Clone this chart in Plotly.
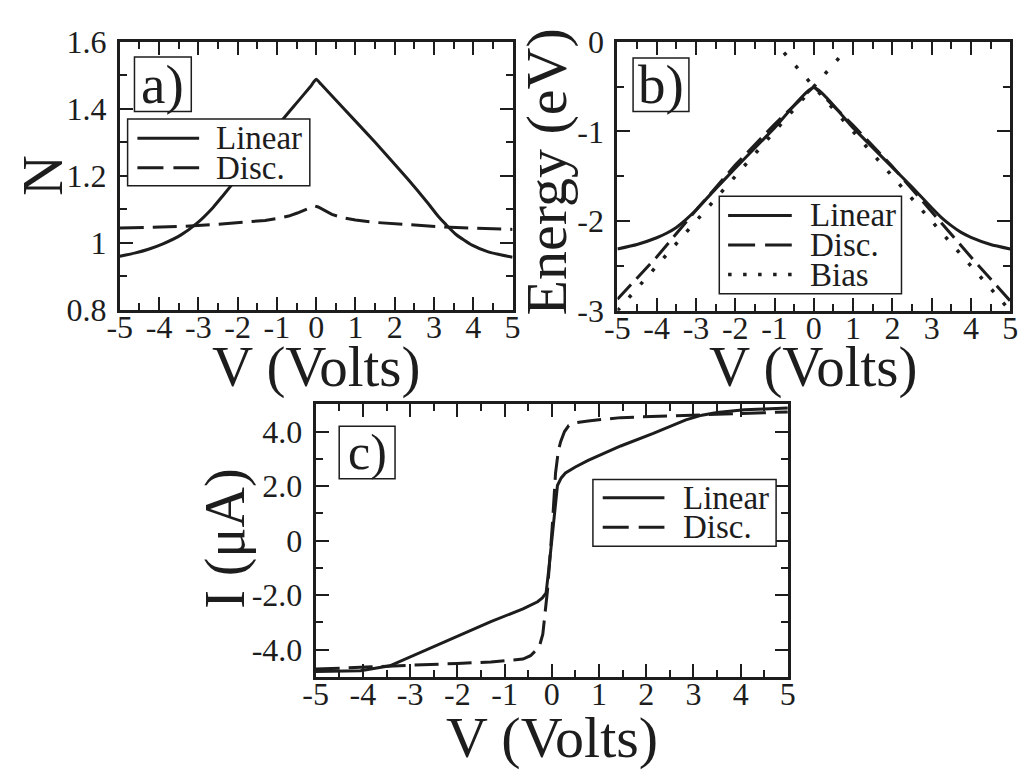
import plotly.graph_objects as go

W, H = 1029, 778
INK = "#1d1d1d"
SERIF = "Liberation Serif"

# ---------------- data ----------------
# a) occupation N versus bias
v_a_lin = [-5, -4.6, -4.27, -3.9, -3.45, -3.04, -2.63, -2.38, -2.0, -1.5, -0.98, -0.48,
           -0.15, 0.0, 0.12, 0.67, 1.5, 2.32, 2.82, 3.1, 3.3, 3.56, 3.97, 4.38, 5]
n_a_lin = [0.960, 0.970, 0.981, 0.997, 1.023, 1.058, 1.105, 1.140, 1.195, 1.270, 1.350, 1.420,
           1.466, 1.488, 1.474, 1.405, 1.300, 1.192, 1.122, 1.080, 1.055, 1.025, 0.993, 0.973, 0.957]
v_a_disc = [-5, -4, -3.45, -2.5, -1.8, -1.3, -0.98, -0.7, -0.48, -0.3, -0.15, -0.03,
            0.05, 0.18, 0.4, 0.67, 1.0, 1.5, 2.32, 3.15, 3.97, 5]
n_a_disc = [1.044, 1.047, 1.049, 1.055, 1.061, 1.067, 1.073, 1.080, 1.089, 1.097, 1.105, 1.110,
            1.107, 1.098, 1.085, 1.075, 1.068, 1.061, 1.054, 1.048, 1.044, 1.040]

# b) level energy versus bias
v_b_lin = [-5, -4.5, -4, -3.75, -3.5, -3.25, -3, -2.5, -2, -1, 0,
           1, 2, 2.5, 3, 3.25, 3.5, 3.75, 4, 4.5, 5]
e_b_lin = [-2.31, -2.26, -2.185, -2.135, -2.07, -1.98, -1.875, -1.64, -1.41, -0.96, -0.51,
           -0.96, -1.40, -1.62, -1.85, -1.96, -2.05, -2.125, -2.18, -2.26, -2.31]
v_b_disc = [-5, -4, -3, -2, -1, 0, 1, 2, 3, 4, 5]
e_b_disc = [-2.87, -2.40, -1.88, -1.375, -0.92, -0.50, -0.93, -1.39, -1.895, -2.40, -2.89]
v_b_bias = [-5, 0.76, None, -0.76, 5]
e_b_bias = [-3.0, -0.12, None, -0.12, -3.0]

# c) current versus bias
v_c_lin = [-5, -4.5, -4.05, -3.43, -2.67, -1.98, -1.29, -0.61, -0.3, -0.2, -0.12, -0.06, 0,
           0.06, 0.12, 0.2, 0.29, 0.5, 0.77, 1.46, 2.15, 2.84, 3.18, 3.5, 4.08, 4.5, 5]
i_c_lin = [-4.80, -4.79, -4.77, -4.59, -4.01, -3.49, -2.97, -2.50, -2.24, -2.10, -1.92, -1.0, 0.0,
           1.0, 2.02, 2.30, 2.48, 2.70, 2.94, 3.47, 3.93, 4.43, 4.60, 4.70, 4.80, 4.83, 4.86]
v_c_disc = [-5, -4, -3, -2, -1.29, -0.61, -0.45, -0.33, -0.25, -0.19, -0.09, 0.01, 0.08,
            0.14, 0.19, 0.27, 0.36, 0.5, 0.77, 1.46, 2.84, 4, 5]
i_c_disc = [-4.71, -4.65, -4.57, -4.50, -4.45, -4.34, -4.22, -4.01, -3.80, -3.43, -1.81, 0.51, 2.48,
            3.30, 3.64, 4.00, 4.22, 4.32, 4.39, 4.51, 4.59, 4.66, 4.72]

# ticks
v_ticks = [-5, -4, -3, -2, -1, 0, 1, 2, 3, 4, 5]
v_ticktext = ["-5", "-4", "-3", "-2", "-1", "0", "1", "2", "3", "4", "5"]
n_ticks = [0.8, 1.0, 1.2, 1.4, 1.6]
n_ticktext = ["0.8", "1", "1.2", "1.4", "1.6"]
e_ticks = [-3, -2, -1, 0]
e_ticktext = ["-3", "-2", "-1", "0"]
i_ticks = [-4, -2, 0, 2, 4]
i_ticktext = ["-4.0", "-2.0", "0", "2.0", "4.0"]

series_names = ["Linear", "Disc.", "Bias"]

# ---------------- helpers ----------------
def px(x):
    return x / W


def py(y):
    return 1 - y / H


def axis(domain, rng, tickvals, ticktext, minor_step, anchor, is_y):
    minor_vals = []
    k = rng[0]
    while k <= rng[1] + 1e-9:
        minor_vals.append(round(k, 6))
        k += minor_step
    return dict(
        domain=domain, range=rng, anchor=anchor,
        tickmode="array", tickvals=tickvals, ticktext=ticktext,
        showline=True, linewidth=3, linecolor=INK, mirror="allticks",
        ticks="inside", ticklen=13, tickwidth=2, tickcolor=INK,
        showgrid=False, zeroline=False, fixedrange=True,
        tickfont=dict(family=SERIF, size=32, color=INK),
        ticklabelstandoff=4 if is_y else -13,
        minor=dict(tickmode="array", tickvals=minor_vals, ticks="inside",
                   ticklen=7, tickwidth=2, tickcolor=INK, showgrid=False),
    )


SOLID = dict(color=INK, width=3)
SOLID_SMOOTH = dict(color=INK, width=3, shape="spline", smoothing=0.5)
DASHED = dict(color=INK, width=3, dash="24px,9px")

fig = go.Figure()
fig.add_trace(go.Scatter(x=v_a_lin, y=n_a_lin, mode="lines", line=SOLID_SMOOTH,
                         name=series_names[0], xaxis="x", yaxis="y"))
fig.add_trace(go.Scatter(x=v_a_disc, y=n_a_disc, mode="lines", line=DASHED, name=series_names[1],
                         xaxis="x", yaxis="y"))
fig.add_trace(go.Scatter(x=v_b_lin, y=e_b_lin, mode="lines", line=SOLID_SMOOTH,
                         name=series_names[0], xaxis="x2", yaxis="y2"))
fig.add_trace(go.Scatter(x=v_b_disc, y=e_b_disc, mode="lines",
                         line=dict(color=INK, width=3, dash="20px,8px"), name=series_names[1],
                         xaxis="x2", yaxis="y2"))
fig.add_trace(go.Scatter(x=v_b_bias, y=e_b_bias, mode="lines",
                         line=dict(color=INK, width=3.5, dash="3.5px,14px"), name=series_names[2],
                         xaxis="x2", yaxis="y2"))
fig.add_trace(go.Scatter(x=v_c_lin, y=i_c_lin, mode="lines", line=SOLID, name=series_names[0],
                         xaxis="x3", yaxis="y3"))
fig.add_trace(go.Scatter(x=v_c_disc, y=i_c_disc, mode="lines", line=DASHED, name=series_names[1],
                         xaxis="x3", yaxis="y3"))

# subplot frames (pixel boxes)
A = (109, 510, 25, 306)
B = (617, 1018, 25, 307)
C = (309, 791, 405, 691)


def dom(box):
    x0, x1, y0, y1 = box
    return [px(x0), px(x1)], [py(y1), py(y0)]


ax_dx, ax_dy = dom(A)
bx_dx, bx_dy = dom(B)
cx_dx, cx_dy = dom(C)

fig.update_layout(
    width=W, height=H, margin=dict(l=0, r=0, t=0, b=0),
    paper_bgcolor="white", plot_bgcolor="white", showlegend=False,
    font=dict(family=SERIF, color=INK),
    xaxis=axis(ax_dx, [-5, 5], v_ticks, v_ticktext, 0.5, "y", False),
    yaxis=axis(ax_dy, [0.8, 1.6], n_ticks, n_ticktext, 0.1, "x", True),
    xaxis2=axis(bx_dx, [-5, 5], v_ticks, v_ticktext, 0.5, "y2", False),
    yaxis2=axis(bx_dy, [-3, 0], e_ticks, e_ticktext, 0.5, "x2", True),
    xaxis3=axis(cx_dx, [-5, 5], v_ticks, v_ticktext, 0.5, "y3", False),
    yaxis3=axis(cx_dy, [-5, 5], i_ticks, i_ticktext, 1.0, "x3", True),
)

shapes = []
annotations = []


def text(x, y, s, size, angle=0, xanchor="center"):
    annotations.append(dict(
        x=px(x), y=py(y), xref="paper", yref="paper", text=s, showarrow=False,
        xanchor=xanchor, yanchor="middle", textangle=angle, borderpad=0,
        font=dict(family=SERIF, size=size, color=INK)))


def box(x0, y0, x1, y1, w=1.5):
    shapes.append(dict(type="rect", xref="paper", yref="paper",
                       x0=px(x0), x1=px(x1), y0=py(y1), y1=py(y0),
                       line=dict(color=INK, width=w), fillcolor="white", layer="above"))


def sample(x0, x1, y, dash=None, width=3):
    line = dict(color=INK, width=width)
    if dash:
        line["dash"] = dash
    shapes.append(dict(type="line", xref="paper", yref="paper",
                       x0=px(x0), x1=px(x1), y0=py(y), y1=py(y), line=line, layer="above"))


# axis titles
text(309.5, 366, "V (Volts)", 57)
text(817.5, 366, "V (Volts)", 57)
text(550, 754, "V (Volts)", 58)
text(30.5, 165.5, "N", 56, angle=-90)
text(545, 161, "Energy (eV)", 58, angle=-90)
text(217, 546.5, "I (μA)", 56, angle=-90)

# panel tags
box(124, 41, 182, 98)
text(153, 70, "a)", 55)
box(633, 42, 690, 98)
text(661.5, 70, "b)", 55)
box(333, 428, 390, 483)
text(361.5, 455.5, "c)", 50)

# legend a)
box(117, 106, 303, 176)
sample(127, 190, 126)
sample(127, 190, 157, dash="26px,10px")
text(206, 126, series_names[0], 33, xanchor="left")
text(206, 157, series_names[1], 33, xanchor="left")

# legend b)
box(721, 187, 907, 289)
sample(730, 795, 207)
sample(730, 795, 238, dash="27px,10px")
sample(730, 795, 269, dash="3.5px,11.5px", width=3.5)
text(813, 207, series_names[0], 33, xanchor="left")
text(813, 238, series_names[1], 33, xanchor="left")
text(813, 269, series_names[2], 33, xanchor="left")

# legend c)
box(592, 484, 779, 554)
sample(602, 665, 503)
sample(602, 665, 534, dash="26px,10px")
text(683, 503, series_names[0], 33, xanchor="left")
text(683, 534, series_names[1], 33, xanchor="left")

fig.update_layout(shapes=shapes, annotations=annotations)
fig.write_html("out.html")
